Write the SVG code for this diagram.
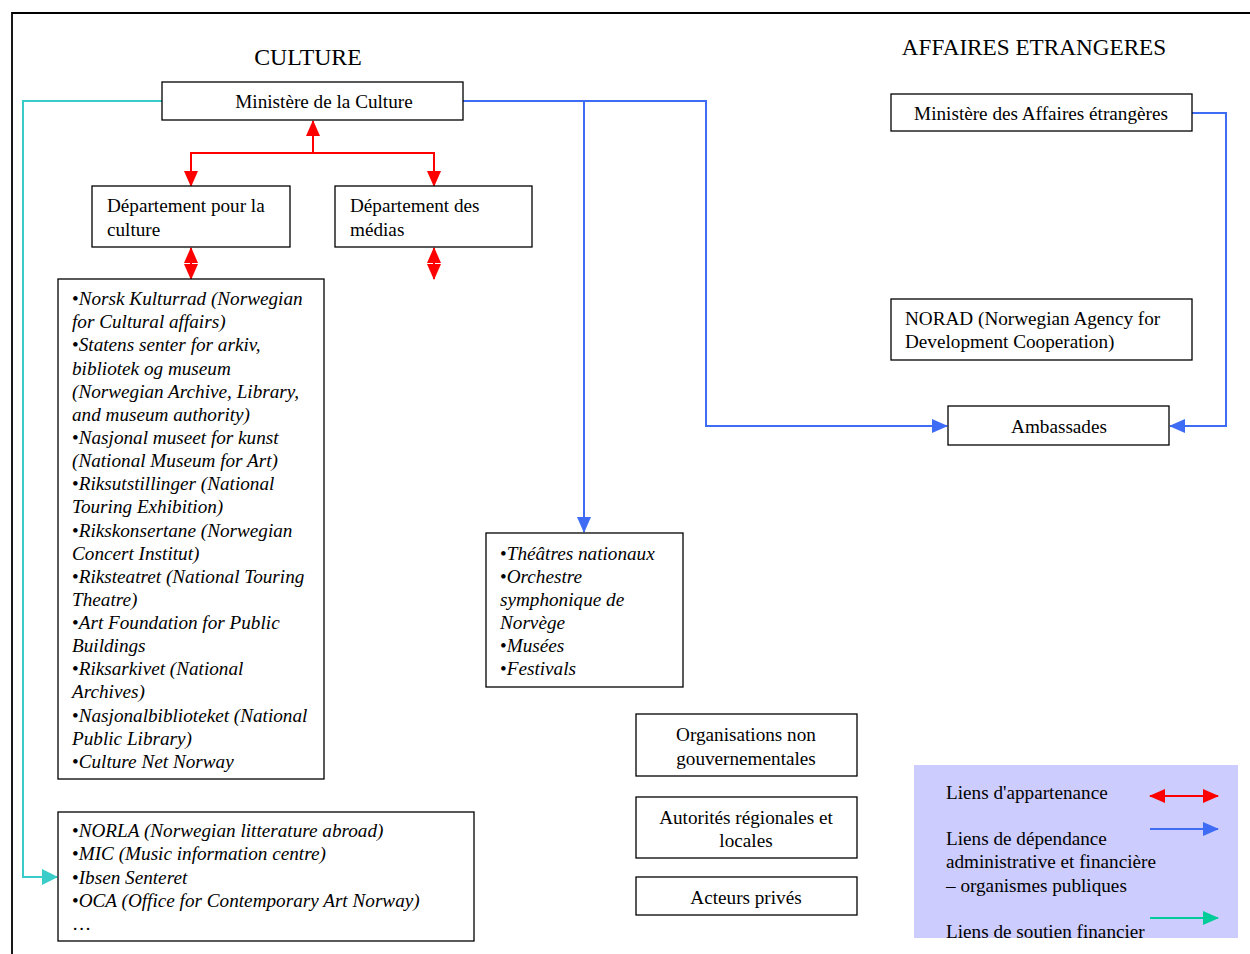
<svg xmlns="http://www.w3.org/2000/svg" width="1250" height="954" viewBox="0 0 1250 954">
<style>
text{font-family:"Liberation Serif","Times New Roman",serif;font-size:19.2px;fill:#000}
.t1{font-size:23.8px}
.t2{font-size:23.2px}
.i{font-style:italic}
.b{font-style:normal}
.c{text-anchor:middle}
.box{fill:#fff;stroke:#000;stroke-width:1.3}
.red{fill:none;stroke:#f00;stroke-width:2}
.blue{fill:none;stroke:#3f6cf5;stroke-width:2}
.cyan{fill:none;stroke:#3accc9;stroke-width:2}
.green{fill:none;stroke:#00cc99;stroke-width:2}
</style>
<defs>
<marker id="ar" markerUnits="userSpaceOnUse" markerWidth="16" markerHeight="16" viewBox="0 0 16 16" refX="15" refY="8" orient="auto-start-reverse"><path d="M0,1 L16,8 L0,15 Z" fill="#f00"/></marker>
<marker id="ab" markerUnits="userSpaceOnUse" markerWidth="16" markerHeight="16" viewBox="0 0 16 16" refX="15" refY="8" orient="auto"><path d="M0,1 L16,8 L0,15 Z" fill="#3f6cf5"/></marker>
<marker id="ac" markerUnits="userSpaceOnUse" markerWidth="16" markerHeight="16" viewBox="0 0 16 16" refX="15" refY="8" orient="auto"><path d="M0,0 L16,8 L0,16 Z" fill="#3accc9"/></marker>
<marker id="ag" markerUnits="userSpaceOnUse" markerWidth="16" markerHeight="16" viewBox="0 0 16 16" refX="15" refY="8" orient="auto"><path d="M0,1 L16,8 L0,15 Z" fill="#00cc99"/></marker>
<clipPath id="legclip"><rect x="914" y="765" width="324" height="173"/></clipPath>
</defs>

<path d="M12,954 V13 H1250" fill="none" stroke="#000" stroke-width="1.8"/>

<text class="t1 c" x="308" y="65">CULTURE</text>
<text class="t2 c" x="1034" y="55">AFFAIRES ETRANGERES</text>

<g id="connectors">
  <path class="cyan" d="M162,101 H23 V877 H57" marker-end="url(#ac)"/>
  <path class="blue" d="M463,101 H706 V426 H947" marker-end="url(#ab)"/>
  <path class="blue" d="M584,101 V532" marker-end="url(#ab)"/>
  <path class="blue" d="M1192,113 H1226 V426 H1170" marker-end="url(#ab)"/>
  <path class="red" d="M313,153 V121" marker-end="url(#ar)"/>
  <path class="red" d="M191,186 V153 H434 V186" marker-start="url(#ar)" marker-end="url(#ar)"/>
  <path class="red" d="M191,248 V279" marker-start="url(#ar)" marker-end="url(#ar)"/>
  <path class="red" d="M434,248 V279" marker-start="url(#ar)" marker-end="url(#ar)"/>
</g>

<g id="ministere-culture">
  <rect class="box" x="162" y="82" width="301" height="38"/>
  <text class="c" x="324" y="108">Ministère de la Culture</text>
</g>
<g id="dept-culture">
  <rect class="box" x="92" y="186" width="198" height="61"/>
  <text x="107" y="212">Département pour la</text>
  <text x="107" y="236">culture</text>
</g>
<g id="dept-medias">
  <rect class="box" x="335" y="186" width="197" height="61"/>
  <text x="350" y="212">Département des</text>
  <text x="350" y="236">médias</text>
</g>
<g id="liste-culture">
  <rect class="box" x="58" y="279" width="266" height="500"/>
  <text class="i" x="72" y="305"><tspan class="b">•</tspan>Norsk Kulturrad (Norwegian</text>
  <text class="i" x="72" y="328">for Cultural affairs)</text>
  <text class="i" x="72" y="351"><tspan class="b">•</tspan>Statens senter for arkiv,</text>
  <text class="i" x="72" y="375">bibliotek og museum</text>
  <text class="i" x="72" y="398">(Norwegian Archive, Library,</text>
  <text class="i" x="72" y="421">and museum authority)</text>
  <text class="i" x="72" y="444"><tspan class="b">•</tspan>Nasjonal museet for kunst</text>
  <text class="i" x="72" y="467">(National Museum for Art)</text>
  <text class="i" x="72" y="490"><tspan class="b">•</tspan>Riksutstillinger (National</text>
  <text class="i" x="72" y="513">Touring Exhibition)</text>
  <text class="i" x="72" y="537"><tspan class="b">•</tspan>Rikskonsertane (Norwegian</text>
  <text class="i" x="72" y="560">Concert Institut)</text>
  <text class="i" x="72" y="583"><tspan class="b">•</tspan>Riksteatret (National Touring</text>
  <text class="i" x="72" y="606">Theatre)</text>
  <text class="i" x="72" y="629"><tspan class="b">•</tspan>Art Foundation for Public</text>
  <text class="i" x="72" y="652">Buildings</text>
  <text class="i" x="72" y="675"><tspan class="b">•</tspan>Riksarkivet (National</text>
  <text class="i" x="72" y="698">Archives)</text>
  <text class="i" x="72" y="722"><tspan class="b">•</tspan>Nasjonalbiblioteket (National</text>
  <text class="i" x="72" y="745">Public Library)</text>
  <text class="i" x="72" y="768"><tspan class="b">•</tspan>Culture Net Norway</text>
</g>
<g id="liste-soutien">
  <rect class="box" x="58" y="812" width="416" height="129"/>
  <text class="i" x="72" y="837"><tspan class="b">•</tspan>NORLA (Norwegian litterature abroad)</text>
  <text class="i" x="72" y="860"><tspan class="b">•</tspan>MIC (Music information centre)</text>
  <text class="i" x="72" y="884"><tspan class="b">•</tspan>Ibsen Senteret</text>
  <text class="i" x="72" y="907"><tspan class="b">•</tspan>OCA (Office for Contemporary Art Norway)</text>
  <text x="72" y="930">…</text>
</g>
<g id="theatres">
  <rect class="box" x="486" y="533" width="197" height="154"/>
  <text class="i" x="500" y="560"><tspan class="b">•</tspan>Théâtres nationaux</text>
  <text class="i" x="500" y="583"><tspan class="b">•</tspan>Orchestre</text>
  <text class="i" x="500" y="606">symphonique de</text>
  <text class="i" x="500" y="629">Norvège</text>
  <text class="i" x="500" y="652"><tspan class="b">•</tspan>Musées</text>
  <text class="i" x="500" y="675"><tspan class="b">•</tspan>Festivals</text>
</g>
<g id="ong">
  <rect class="box" x="636" y="714" width="221" height="62" stroke-width="1.8"/>
  <text class="c" x="746" y="741">Organisations non</text>
  <text class="c" x="746" y="765">gouvernementales</text>
</g>
<g id="autorites">
  <rect class="box" x="636" y="797" width="221" height="61"/>
  <text class="c" x="746" y="824">Autorités régionales et</text>
  <text class="c" x="746" y="847">locales</text>
</g>
<g id="acteurs">
  <rect class="box" x="636" y="877" width="221" height="38"/>
  <text class="c" x="746" y="904">Acteurs privés</text>
</g>
<g id="ministere-ae">
  <rect class="box" x="891" y="94" width="301" height="37"/>
  <text class="c" x="1041" y="120">Ministère des Affaires étrangères</text>
</g>
<g id="norad">
  <rect class="box" x="891" y="299" width="301" height="61"/>
  <text x="905" y="325">NORAD (Norwegian Agency for</text>
  <text x="905" y="348">Development Cooperation)</text>
</g>
<g id="ambassades">
  <rect class="box" x="948" y="406" width="221" height="39" stroke-width="1.8"/>
  <text class="c" x="1059" y="433">Ambassades</text>
</g>

<g id="legende">
  <rect x="914" y="765" width="324" height="173" fill="#ccccff"/>
  <g clip-path="url(#legclip)">
    <text x="946" y="799">Liens d'appartenance</text>
    <text x="946" y="845">Liens de dépendance</text>
    <text x="946" y="868">administrative et financière</text>
    <text x="946" y="892">– organismes publiques</text>
    <text x="946" y="938">Liens de soutien financier</text>
  </g>
  <path class="red" d="M1150,796 H1218" marker-start="url(#ar)" marker-end="url(#ar)"/>
  <path class="blue" d="M1150,829 H1218" marker-end="url(#ab)"/>
  <path class="green" d="M1150,918 H1218" marker-end="url(#ag)"/>
</g>
</svg>
